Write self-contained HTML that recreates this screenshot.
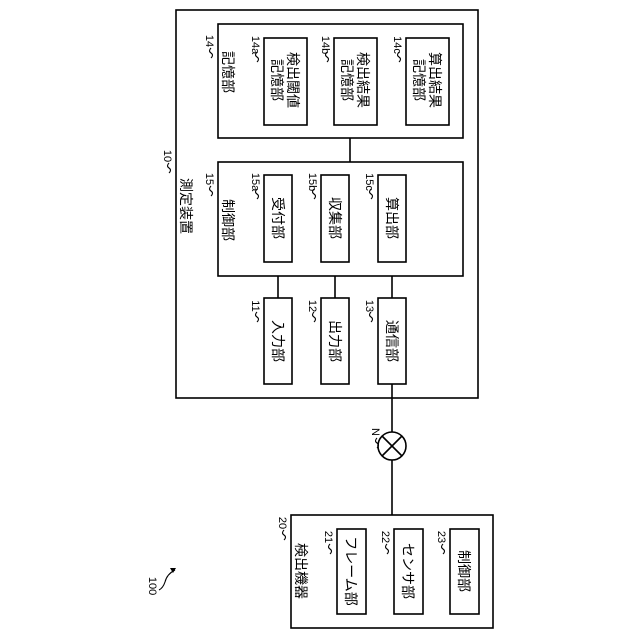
<!DOCTYPE html>
<html><head><meta charset="utf-8"><style>
html,body{margin:0;padding:0;background:#fff;}
svg{display:block;}
text{font-family:"Liberation Sans","Noto Sans CJK JP",sans-serif;fill:#000;}
</style></head><body>
<svg width="640" height="640" viewBox="0 0 640 640" xmlns="http://www.w3.org/2000/svg">
<g fill="none" stroke="#000" stroke-width="1.6">
<rect x="176" y="10" width="302" height="388"/>
<rect x="218" y="24" width="245" height="114"/>
<rect x="264" y="38" width="43" height="87"/>
<rect x="334" y="38" width="43" height="87"/>
<rect x="406" y="38" width="43" height="87"/>
<line x1="350" y1="138" x2="350" y2="162"/>
<rect x="218" y="162" width="245" height="114"/>
<rect x="264" y="175" width="28" height="87"/>
<rect x="321" y="175" width="28" height="87"/>
<rect x="378" y="175" width="28" height="87"/>
<line x1="278" y1="276" x2="278" y2="298"/>
<line x1="335" y1="276" x2="335" y2="298"/>
<line x1="392" y1="276" x2="392" y2="298"/>
<rect x="264" y="298" width="28" height="86"/>
<rect x="321" y="298" width="28" height="86"/>
<rect x="378" y="298" width="28" height="86"/>
<line x1="392" y1="384" x2="392" y2="432"/>
<circle cx="392" cy="446" r="14"/>
<line x1="382" y1="436" x2="402" y2="456"/>
<line x1="402" y1="436" x2="382" y2="456"/>
<line x1="392" y1="460" x2="392" y2="515"/>
<rect x="291" y="515" width="202" height="113"/>
<rect x="337" y="529" width="29" height="85"/>
<rect x="394" y="529" width="29" height="85"/>
<rect x="450" y="529" width="29" height="85"/>
<!-- squiggles -->
<g stroke-width="1.1">
<path d="M169 163 q-3 3 0 5 q3 2 0 5"/>
<path d="M211 48 q-3 3 0 5 q3 2 0 5"/>
<path d="M211 186 q-3 3 0 5 q3 2 0 5"/>
<path d="M257 52 q-3 3 0 5 q3 2 0 5"/>
<path d="M327 52 q-3 3 0 5 q3 2 0 5"/>
<path d="M399 52 q-3 3 0 5 q3 2 0 5"/>
<path d="M257 189 q-3 3 0 5 q3 2 0 5"/>
<path d="M314 189 q-3 3 0 5 q3 2 0 5"/>
<path d="M371 189 q-3 3 0 5 q3 2 0 5"/>
<path d="M257 312 q-3 3 0 5 q3 2 0 5"/>
<path d="M314 312 q-3 3 0 5 q3 2 0 5"/>
<path d="M371 312 q-3 3 0 5 q3 2 0 5"/>
<path d="M377 438 q-3 3 0 5 q3 2 0 5"/>
<path d="M284 530 q-3 3 0 5 q3 2 0 5"/>
<path d="M330 544 q-3 3 0 5 q3 2 0 5"/>
<path d="M387 544 q-3 3 0 5 q3 2 0 5"/>
<path d="M443 544 q-3 3 0 5 q3 2 0 5"/>
<path d="M159 590 q4 -2 6 -8 q2 -8 10 -12"/>
</g>
<path d="M176 568 l-6 0 l3 5 z" fill="#000" stroke="none"/>
</g>
<g font-size="14" text-anchor="middle" dominant-baseline="central">
<text transform="translate(186,206) rotate(90)">測定装置</text>
<text transform="translate(228,72) rotate(90)">記憶部</text>
<text transform="translate(228,220) rotate(90)">制御部</text>
<text transform="translate(293,80) rotate(90)">検出閾値</text>
<text transform="translate(277,80) rotate(90)">記憶部</text>
<text transform="translate(363,80) rotate(90)">検出結果</text>
<text transform="translate(347,80) rotate(90)">記憶部</text>
<text transform="translate(435,80) rotate(90)">算出結果</text>
<text transform="translate(419,80) rotate(90)">記憶部</text>
<text transform="translate(278,218) rotate(90)">受付部</text>
<text transform="translate(335,218) rotate(90)">収集部</text>
<text transform="translate(392,218) rotate(90)">算出部</text>
<text transform="translate(278,341) rotate(90)">入力部</text>
<text transform="translate(335,341) rotate(90)">出力部</text>
<text transform="translate(392,341) rotate(90)">通信部</text>
<text transform="translate(301,571) rotate(90)">検出機器</text>
<text transform="translate(351,571) rotate(90)">フレーム部</text>
<text transform="translate(408,571) rotate(90)">センサ部</text>
<text transform="translate(464,571) rotate(90)">制御部</text>
</g>
<g font-size="11" text-anchor="middle" dominant-baseline="central">
<text transform="translate(167,156) rotate(90)">10</text>
<text transform="translate(209,41) rotate(90)">14</text>
<text transform="translate(209,179) rotate(90)">15</text>
<text transform="translate(255,45) rotate(90)">14a</text>
<text transform="translate(325,45) rotate(90)">14b</text>
<text transform="translate(397,45) rotate(90)">14c</text>
<text transform="translate(255,182) rotate(90)">15a</text>
<text transform="translate(312,182) rotate(90)">15b</text>
<text transform="translate(369,182) rotate(90)">15c</text>
<text transform="translate(255,306) rotate(90)">11</text>
<text transform="translate(312,306) rotate(90)">12</text>
<text transform="translate(369,306) rotate(90)">13</text>
<text transform="translate(375,432) rotate(90)">N</text>
<text transform="translate(282,523) rotate(90)">20</text>
<text transform="translate(328,537) rotate(90)">21</text>
<text transform="translate(385,537) rotate(90)">22</text>
<text transform="translate(441,537) rotate(90)">23</text>
<text transform="translate(152,586) rotate(90)">100</text>
</g>
</svg>
</body></html>
